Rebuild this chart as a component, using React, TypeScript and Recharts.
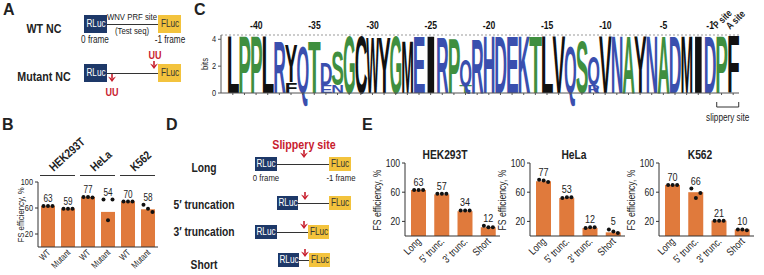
import React from 'react';
import { ComposedChart, BarChart, Bar, Line, XAxis, YAxis, ReferenceLine } from 'recharts';

const FONT = "'Liberation Sans', Arial, sans-serif";
const SQ = 0.82; // horizontal squeeze, the figure uses a condensed face
const ORANGE = '#e07a3c';
const NAVY = '#1d3868';
const YELLOW = '#f3c33d';
const RED = '#c8202e';
const GREEN = '#3f8f3f';
const BLUE = '#3a4fae';

// ---- panel B ----
const bConstructs = ['WT', 'Mutant', 'WT', 'Mutant', 'WT', 'Mutant'];
const bCells = ['HEK293T', 'HeLa', 'K562'];
const bBars = [63, 59, 77, 54, 70, 58];
const bLabels = ['63', '59', '77', '54', '70', '58'];
const bRep1 = [63, 59, 77, 73, 70, 65];
const bRep2 = [63, 59, 77, 41, 70, 59];
const bRep3 = [63, 59, 76, 73, 70, 54];

// ---- panel C (sequence logo) ----
const logoLetters = ['L', 'P', 'P', 'L', 'R', 'Y', 'Q', 'T', 'D', 'S', 'G', 'C', 'W', 'Y', 'G', 'M', 'E', 'I', 'R', 'P', 'Q', 'R', 'H', 'D', 'E', 'K', 'T', 'L', 'V', 'Q', 'S', 'Q', 'V', 'N', 'A', 'Y', 'N', 'A', 'D', 'M', 'I', 'D', 'P', 'F'];
const logoHeights = [4.3, 4.3, 4.3, 4.3, 4.0, 2.9, 3.6, 4.0, 1.7, 2.6, 4.3, 4.3, 4.2, 4.2, 4.3, 4.0, 4.3, 4.3, 4.2, 4.1, 2.0, 4.1, 4.3, 4.3, 4.3, 4.3, 4.3, 4.3, 4.3, 3.6, 4.0, 2.2, 4.3, 4.3, 4.3, 4.3, 4.3, 4.3, 4.3, 4.3, 4.3, 4.3, 4.3, 4.3];
const logoMinorAt = [5, 8, 9, 20, 31];
const logoMinorLetters = ['F', 'E', 'N', 'T', 'R'];
const logoMinorHeights = [0.8, 0.6, 0.6, 0.55, 0.6];
const logoFirstPos = -42;
const logoTickLabels = [-40, -35, -30, -25, -20, -15, -10, -5, -1];

// ---- panel E ----
const eConstructs = ['Long', '5\u2032 trunc.', '3\u2032 trunc.', 'Short'];
const eHekBars = [63, 57, 34, 12];
const eHekLabels = ['63', '57', '34', '12'];
const eHekRep1 = [63, 58, 35, 14];
const eHekRep2 = [63, 58, 35, 12];
const eHekRep3 = [63, 58, 35, 12];
const eHelaBars = [75, 52, 11, 5];
const eHelaLabels = ['77', '53', '12', '5'];
const eHelaRep1 = [77, 52, 11, 9];
const eHelaRep2 = [76, 53, 12, 6];
const eHelaRep3 = [74, 53, 12, 4];
const eK562Bars = [70, 60, 21, 9];
const eK562Labels = ['70', '66', '21', '10'];
const eK562Rep1 = [70, 65, 21, 9];
const eK562Rep2 = [70, 52, 21, 9];
const eK562Rep3 = [70, 59, 21, 8];

const aaColor = (c: string) => {
  if ('PGTSA'.includes(c)) return GREEN;
  if ('RQDEHKN'.includes(c)) return BLUE;
  return '#111';
};

const logoRows = logoLetters.map((c, i) => {
  const stack: { c: string; h: number }[] = [];
  const m = logoMinorAt.indexOf(i);
  if (m >= 0) stack.push({ c: logoMinorLetters[m], h: logoMinorHeights[m] });
  stack.push({ c, h: logoHeights[i] });
  return { pos: logoFirstPos + i, stack, total: stack.reduce((s, l) => s + l.h, 0) };
});

const makeRows = (names: string[], bars: number[], labels: string[], r1: number[], r2: number[], r3: number[]) =>
  names.map((name, i) => ({
    id: i,
    name,
    bar: bars[i],
    r1: r1[i],
    r2: r2[i],
    r3: r3[i],
    top: Math.max(bars[i], r1[i], r2[i], r3[i]),
    label: labels[i],
  }));

const bRows = makeRows(bConstructs, bBars, bLabels, bRep1, bRep2, bRep3);
const eHekRows = makeRows(eConstructs, eHekBars, eHekLabels, eHekRep1, eHekRep2, eHekRep3);
const eHelaRows = makeRows(eConstructs, eHelaBars, eHelaLabels, eHelaRep1, eHelaRep2, eHelaRep3);
const eK562Rows = makeRows(eConstructs, eK562Bars, eK562Labels, eK562Rep1, eK562Rep2, eK562Rep3);

// ---------- html helpers for the schematic panels ----------
function Txt({ x, y, size = 10, bold = false, color = '#222', anchor = 'middle', rot = 0, sq = SQ, children }: any) {
  const tx = anchor === 'middle' ? '-50%' : anchor === 'end' ? '-100%' : '0';
  const origin = anchor === 'middle' ? 'center' : anchor === 'end' ? 'right center' : 'left center';
  return (
    <div
      style={{
        position: 'absolute', left: x, top: y,
        transform: `translate(${tx}, -50%) rotate(${rot}deg) scaleX(${sq})`,
        transformOrigin: origin,
        fontFamily: FONT, fontSize: size, fontWeight: bold ? 700 : 400, color, whiteSpace: 'nowrap', lineHeight: 1,
      }}
    >
      {children}
    </div>
  );
}

function Box({ x, y, w, h, kind }: any) {
  const rl = kind === 'R';
  return (
    <div style={{ position: 'absolute', left: x, top: y, width: w, height: h, background: rl ? NAVY : YELLOW }}>
      <Txt x={w / 2} y={h / 2} size={10} color={rl ? '#fff' : '#333'}>{rl ? 'RLuc' : 'FLuc'}</Txt>
    </div>
  );
}

function Wire({ x1, x2, y, t = 1 }: any) {
  return <div style={{ position: 'absolute', left: x1, top: y, width: x2 - x1, height: t, background: '#333' }} />;
}

function Arrow({ x, y }: any) {
  // tip at (x, y), pointing down
  return (
    <svg style={{ position: 'absolute', left: x - 4, top: y - 8 }} width={8} height={8}>
      <rect x={3.2} y={0} width={1.6} height={4} fill={RED} />
      <path d="M0,2.5 L4,4.5 L8,2.5 L4,8 Z" fill={RED} />
    </svg>
  );
}

// ---------- svg helpers for the charts ----------
function SvgTxt({ x, y, rot = 0, anchor = 'middle', size = 10, bold = false, fill = '#222', children }: any) {
  return (
    <text
      x={0}
      y={0}
      transform={`translate(${x} ${y}) rotate(${rot}) scale(${SQ} 1)`}
      textAnchor={anchor}
      fontFamily={FONT}
      fontSize={size}
      fontWeight={bold ? 700 : 400}
      fill={fill}
    >
      {children}
    </text>
  );
}

const yTick = (fs: number) => (p: any) => (
  <SvgTxt x={p.x} y={p.y + fs * 0.35} anchor="end" size={fs}>{p.payload.value}</SvgTxt>
);

const dotShape = (off: number, k: string) => (p: any) => (
  <circle key={`${k}-${p.index}`} cx={p.cx + off} cy={p.cy} r={2} fill="#111" />
);

const labelShape = (fs: number) => (p: any) => (
  <g key={`lab-${p.index}`}>
    <SvgTxt x={p.cx} y={p.cy - 4} size={fs}>{p.payload.label}</SvgTxt>
  </g>
);

const rotTick = (names: string[], fs: number) => (p: any) => (
  <SvgTxt x={p.x + 3} y={p.y + 6} rot={-45} anchor="end" size={fs}>{names[p.payload.value]}</SvgTxt>
);

// one logo column; also draws the position label above the plot and the slippery-site bracket
const LogoShape = (p: any) => {
  const { x, y, width, height, payload } = p;
  const scale = height / payload.total;
  const cx = x + width / 2;
  const base = y + height;
  let yb = base;
  const v = payload.pos;
  return (
    <g>
      {payload.stack.map((l: any, i: number) => {
        const hpx = l.h * scale;
        const el = (
          <text
            key={i}
            x={0}
            y={0}
            fontSize={100}
            fontFamily={FONT}
            fontWeight={700}
            fill={aaColor(l.c)}
            textLength={width * 1.06}
            lengthAdjust="spacingAndGlyphs"
            transform={`translate(${x - width * 0.03},${yb}) scale(1,${hpx / 71.6})`}
          >
            {l.c}
          </text>
        );
        yb -= hpx;
        return el;
      })}
      {logoTickLabels.includes(v) && <SvgTxt x={cx} y={29} size={10.5} bold fill="#111">{v}</SvgTxt>}
      {v === 0 && (
        <g>
          <path d={`M${cx - 5},${base + 9} L${cx - 5},${base + 14} L${cx + 17},${base + 14} L${cx + 17},${base + 9}`} stroke="#333" fill="none" strokeWidth={1} />
          <SvgTxt x={cx + 6} y={base + 28} size={10}>slippery site</SvgTxt>
        </g>
      )}
    </g>
  );
};

function EChart({ left, rows }: any) {
  return (
    <div style={{ position: 'absolute', left, top: 140, width: 132, height: 135 }}>
      <ComposedChart width={132} height={135} data={rows} margin={{ top: 23, right: 2, bottom: 0, left: 0 }}>
        <XAxis dataKey="id" height={39} interval={0} tickLine={false} tickSize={0} tickMargin={0} padding={{ left: 2, right: 0 }} stroke="#333" tick={rotTick(eConstructs, 10.5)} />
        <YAxis width={35} domain={[0, 100]} ticks={[0, 20, 40, 60, 80, 100]} tickSize={3} stroke="#333" tick={yTick(10.5)} />
        <Bar dataKey="bar" fill={ORANGE} barSize={15} isAnimationActive={false} />
        <Line dataKey="r1" stroke="none" dot={dotShape(-4.5, 'a')} activeDot={false} isAnimationActive={false} />
        <Line dataKey="r2" stroke="none" dot={dotShape(0, 'b')} activeDot={false} isAnimationActive={false} />
        <Line dataKey="r3" stroke="none" dot={dotShape(4.5, 'c')} activeDot={false} isAnimationActive={false} />
        <Line dataKey="top" stroke="none" dot={labelShape(11)} activeDot={false} isAnimationActive={false} />
      </ComposedChart>
      <Txt x={7} y={59.5} size={10.5} rot={-90}>FS efficiency, %</Txt>
    </div>
  );
}

export default function App() {
  return (
    <div style={{ position: 'absolute', left: 0, top: 0, width: 764, height: 275, background: '#fff', overflow: 'hidden' }}>
      {/* panel letters */}
      <Txt x={3} y={10} size={16} bold anchor="start" sq={1}>A</Txt>
      <Txt x={2} y={125} size={16} bold anchor="start" sq={1}>B</Txt>
      <Txt x={194} y={10} size={16} bold anchor="start" sq={1}>C</Txt>
      <Txt x={166} y={125} size={16} bold anchor="start" sq={1}>D</Txt>
      <Txt x={362} y={125} size={16} bold anchor="start" sq={1}>E</Txt>

      {/* panel A */}
      <Txt x={44} y={28} size={13} bold>WT NC</Txt>
      <Box x={84} y={15} w={23} h={18} kind="R" />
      <Wire x1={107} x2={158} y={24} />
      <Box x={158} y={15} w={23} h={18} kind="F" />
      <Txt x={132} y={17} size={9.5}>WNV PRF site</Txt>
      <Txt x={132} y={31} size={9.5}>(Test seq)</Txt>
      <Txt x={95} y={40} size={10}>0 frame</Txt>
      <Txt x={170} y={40} size={10}>-1 frame</Txt>

      <Txt x={44} y={76} size={13} bold>Mutant NC</Txt>
      <Box x={84} y={64} w={23} h={18} kind="R" />
      <Wire x1={107} x2={158} y={73} />
      <Box x={158} y={64} w={23} h={18} kind="F" />
      <Arrow x={112} y={82} />
      <Txt x={112} y={92} size={11} bold color={RED}>UU</Txt>
      <Arrow x={154} y={69} />
      <Txt x={155} y={55} size={11} bold color={RED}>UU</Txt>

      {/* panel B */}
      <div style={{ position: 'absolute', left: 0, top: 130, width: 160, height: 145 }}>
        <ComposedChart width={160} height={145} data={bRows} margin={{ top: 52, right: 2, bottom: 0, left: 0 }}>
          <XAxis dataKey="id" height={28} interval={0} tickLine={false} tickSize={0} tickMargin={0} stroke="#333" tick={rotTick(bConstructs, 9)} />
          <YAxis width={38} domain={[0, 100]} ticks={[0, 20, 40, 60, 80, 100]} tickSize={3} stroke="#333" tick={yTick(9)} />
          <Bar dataKey="bar" fill={ORANGE} barSize={14} isAnimationActive={false} />
          <Line dataKey="r1" stroke="none" dot={dotShape(-4.5, 'a')} activeDot={false} isAnimationActive={false} />
          <Line dataKey="r2" stroke="none" dot={dotShape(0, 'b')} activeDot={false} isAnimationActive={false} />
          <Line dataKey="r3" stroke="none" dot={dotShape(4.5, 'c')} activeDot={false} isAnimationActive={false} />
          <Line dataKey="top" stroke="none" dot={labelShape(10)} activeDot={false} isAnimationActive={false} />
        </ComposedChart>
        <Txt x={21} y={85} size={9.5} rot={-90}>FS efficiency, %</Txt>
      </div>
      {/* cell-line headers of panel B */}
      <Wire x1={40} x2={75} y={175} t={1.2} />
      <Wire x1={80} x2={115} y={175} t={1.2} />
      <Wire x1={120} x2={155} y={175} t={1.2} />
      <Txt x={51} y={169} size={12} bold anchor="start" rot={-42}>{bCells[0]}</Txt>
      <Txt x={92} y={169} size={12} bold anchor="start" rot={-42}>{bCells[1]}</Txt>
      <Txt x={132} y={169} size={12} bold anchor="start" rot={-42}>{bCells[2]}</Txt>

      {/* panel C */}
      <div style={{ position: 'absolute', left: 190, top: 0, width: 574, height: 130 }}>
        <BarChart width={574} height={130} data={logoRows} margin={{ top: 35, right: 25, bottom: 0, left: 0 }} barCategoryGap={0}>
          <XAxis dataKey="pos" height={37} interval={0} tickSize={2} tickMargin={2} padding={{ left: 6, right: 0 }} stroke="#555" tickFormatter={() => ''} />
          <YAxis width={31} domain={[0, 4.32]} ticks={[0, 1, 2, 3, 4]} tickSize={3} stroke="#555" tick={yTick(9)} />
          <ReferenceLine y={4.32} stroke="#999" strokeDasharray="2 2" />
          <Bar dataKey="total" shape={LogoShape} isAnimationActive={false} />
        </BarChart>
        <Txt x={15} y={64} size={9.5} rot={-90}>bits</Txt>
      </div>
      <Txt x={715} y={27} size={10} bold anchor="start" rot={-45}>P site</Txt>
      <Txt x={728} y={28} size={10} bold anchor="start" rot={-45}>A site</Txt>

      {/* panel D */}
      <Txt x={204} y={168} size={12.5} bold>Long</Txt>
      <Txt x={204} y={205} size={12.5} bold>5{'\u2032'} truncation</Txt>
      <Txt x={204} y={232} size={12.5} bold>3{'\u2032'} truncation</Txt>
      <Txt x={204} y={265} size={12.5} bold>Short</Txt>

      <Txt x={304} y={144} size={13} bold color={RED}>Slippery site</Txt>
      <Box x={255} y={157} w={22} h={14} kind="R" />
      <Wire x1={277} x2={329} y={164} />
      <Box x={329} y={157} w={22} h={14} kind="F" />
      <Arrow x={304} y={158} />
      <Txt x={266} y={178} size={9.5}>0 frame</Txt>
      <Txt x={341} y={178} size={9.5}>-1 frame</Txt>

      <Box x={277} y={196} w={21} h={14} kind="R" />
      <Wire x1={298} x2={329} y={203} />
      <Box x={329} y={196} w={22} h={14} kind="F" />
      <Arrow x={305} y={200} />

      <Box x={255} y={225} w={22} h={14} kind="R" />
      <Wire x1={277} x2={308} y={232} />
      <Box x={308} y={225} w={21} h={14} kind="F" />
      <Arrow x={304} y={229} />

      <Box x={278} y={253} w={21} h={14} kind="R" />
      <Wire x1={299} x2={309} y={260} />
      <Box x={309} y={253} w={21} h={14} kind="F" />
      <Arrow x={305} y={257} />

      {/* panel E */}
      <Txt x={445} y={155} size={12.5} bold>HEK293T</Txt>
      <Txt x={574} y={155} size={12.5} bold>HeLa</Txt>
      <Txt x={700} y={155} size={12.5} bold>K562</Txt>
      <EChart left={370} rows={eHekRows} />
      <EChart left={495} rows={eHelaRows} />
      <EChart left={624} rows={eK562Rows} />
    </div>
  );
}
